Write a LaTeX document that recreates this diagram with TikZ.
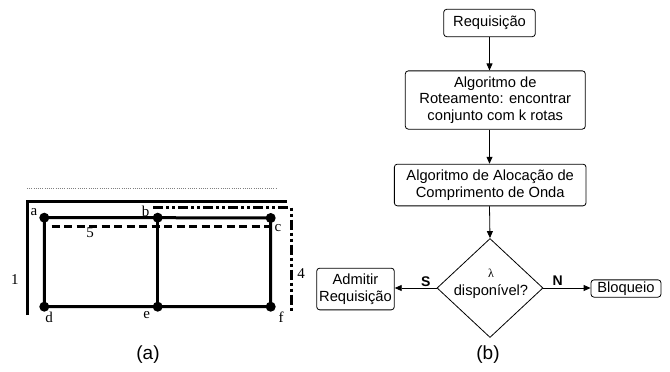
\documentclass[tikz,border=0pt]{standalone}
\usepackage{fontspec}
\setmainfont{Liberation Sans}
\newfontfamily\tnr{Liberation Serif}
\usetikzlibrary{arrows.meta,shapes.geometric}
\begin{document}
\begin{tikzpicture}[x=1pt,y=-1pt,
  vtx/.style={circle,fill=black,inner sep=0,minimum size=10},
  edge/.style={line width=3},
  tlab/.style={font=\tnr\fontsize{15}{17}\selectfont,inner sep=0},
  box/.style={draw,rounded corners=3,line width=0.8,align=center,inner sep=0,
    font=\fontsize{14.7}{16.7}\selectfont},
  arr/.style={line width=0.8,-{Triangle[length=7,width=6]}},
  captext/.style={font=\fontsize{19}{21}\selectfont,inner sep=0}]
\useasboundingbox (0,0) rectangle (670,372);
% ---------- (a) ----------
\coordinate (dl1) at (27,188);
\coordinate (dl2) at (277,188);
\draw[gray,line width=0.7,dash pattern=on 1 off 1.2] (dl1) -- (dl2);
\node[vtx] (a) at (44.3,217.7) {};
\node[vtx] (b) at (157.7,217.7) {};
\node[vtx] (c) at (270.7,218) {};
\node[vtx] (d) at (44.3,306.7) {};
\node[vtx] (e) at (157.7,306.7) {};
\node[vtx] (f) at (270.7,306.7) {};
\draw[edge] (a.center) -- (b.center) -- (c.center) -- (f.center) -- (e.center) -- (d.center) -- cycle;
\draw[edge] (b.center) -- (e.center);
% path 1
\coordinate (p1s) at (27,315);
\coordinate (p1m) at (27,201);
\coordinate (p1e) at (287,201);
\draw[edge] (p1s) -- (p1m) -- (p1e);
% path 5
\coordinate (p5s) at (51.7,226.5);
\coordinate (p5e) at (269.3,226.5);
\draw[edge,dash pattern=on 8 off 4.5] (p5s) -- (p5e);
% path 4
\coordinate (p4s) at (153.3,207.3);
\coordinate (p4m) at (291,207.3);
\coordinate (p4e) at (291,311);
\draw[edge,dash pattern=on 10 off 3 on 3 off 3 on 3 off 3] (p4s) -- (p4m) -- (p4e);
\node[tlab] (la) at (34,211.7) {a};
\node[tlab] (lb) at (145.7,211) {b};
\node[tlab] (lc) at (278,228) {c};
\node[tlab] (ld) at (49,317) {d};
\node[tlab] (le) at (146.7,315) {e};
\node[tlab] (lf) at (281,317) {f};
\node[tlab] (l5) at (90,233) {5};
\node[tlab] (l1) at (15,280) {1};
\node[tlab] (l4) at (301,274) {4};
\node[captext] (capa) at (148,355) {(a)};
% ---------- (b) ----------
\node[box,minimum width=91.6,minimum height=27.4] (req) at (489.5,23) {Requisição};
\node[box,minimum width=180,minimum height=58.3] (rot) at (495.3,100) {Algoritmo de\\Roteamento: encontrar\\conjunto com k rotas};
\node[box,minimum width=191.7,minimum height=41.7] (alo) at (490.2,185) {Algoritmo de Alocação de\\Comprimento de Onda};
\node[diamond,draw,line width=0.8,minimum width=106,minimum height=99,inner sep=0] (dec) at (490,288) {};
\node[font=\tnr\fontsize{12}{14}\selectfont,inner sep=0] (lam) at (491,273.5) {λ};
\node[font=\fontsize{14.7}{16.7}\selectfont,inner sep=0] (disp) at (491,292) {disponível?};
\node[box,minimum width=77.6,minimum height=41.7] (adm) at (355.5,289) {Admitir\\Requisição};
\node[box,minimum width=70,minimum height=17.3] (blo) at (626,288.5) {Bloqueio};
\draw[arr] (req.south) -- (req.south |- rot.north);
\draw[arr] (req.south |- rot.south) -- (req.south |- alo.north);
\draw[arr] (req.south |- alo.south) -- (dec.north);
\draw[arr] (dec.west) -- (dec.west -| adm.east);
\draw[arr] (dec.east) -- (dec.east -| blo.west);
\node[font=\bfseries\fontsize{14}{16}\selectfont,inner sep=0] (ls) at (425.7,281.5) {S};
\node[font=\bfseries\fontsize{14}{16}\selectfont,inner sep=0] (ln) at (557.7,281) {N};
\node[captext] (capb) at (488,355) {(b)};
\end{tikzpicture}
\end{document}
